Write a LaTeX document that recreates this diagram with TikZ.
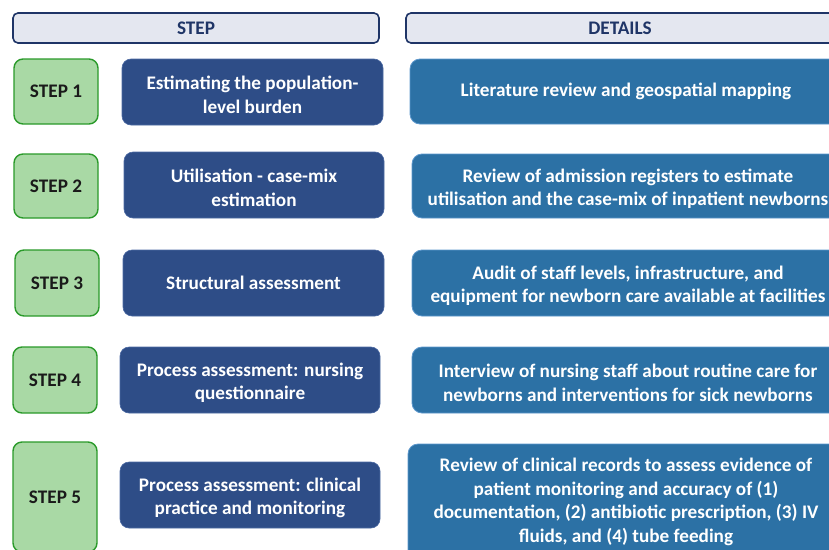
\documentclass[tikz,border=0pt]{standalone}
\usepackage{fontspec}
\setmainfont{Carlito}
\definecolor{hdrfill}{HTML}{E4E7F0}
\definecolor{hdrline}{HTML}{1F3567}
\definecolor{grnfill}{HTML}{A9D9A5}
\definecolor{grnline}{HTML}{2A9A2A}
\definecolor{navy}{HTML}{2E4D87}
\definecolor{navyline}{HTML}{4C6AA3}
\definecolor{teal}{HTML}{2C71A5}
\definecolor{tealline}{HTML}{5C97CC}
\definecolor{txtdark}{HTML}{1A1A1A}
\newcommand\mystrut{\rule{0pt}{19.5pt}}
\tikzset{
  base/.style={font=\fontsize{19.2}{23.5}\selectfont\bfseries, align=center, inner sep=0pt},
  hdr/.style={base, draw=hdrline, line width=1.6pt, fill=hdrfill, rounded corners=5pt, text=hdrline},
  stepbox/.style={base, draw=grnline, line width=1.4pt, fill=grnfill, rounded corners=9pt, text=txtdark, minimum width=84pt},
  namebox/.style={base, draw=navyline, line width=0.6pt, fill=navy, rounded corners=9pt, text=white},
  detailbox/.style={base, draw=tealline, line width=0.8pt, fill=teal, rounded corners=10pt, text=white}
}
\begin{document}
\begin{tikzpicture}[x=1pt,y=-1pt]
\useasboundingbox (0,0) rectangle (829,549);
\clip (0,0) rectangle (829,549);
% headers
\node[hdr, minimum width=366pt, minimum height=30pt] (hs) at (196,28) {STEP};
\node[hdr, minimum width=428pt, minimum height=30pt] (hd) at (620,28) {DETAILS};
% step 1
\node[stepbox, minimum height=65pt] (s1) at (56,91.5) {STEP 1};
\node[namebox, minimum width=261pt, minimum height=66pt] (n1) at (252.5,92) {\mystrut Estimating the population-\\level burden};
\node[detailbox, minimum width=432pt, minimum height=65pt] (d1) at (626,91.5) {Literature review and geospatial mapping};
% step 2
\node[stepbox, minimum height=64pt] (s2) at (56,186) {STEP 2};
\node[namebox, minimum width=260pt, minimum height=66pt] (n2) at (254,185) {\mystrut Utilisation - case-mix\\estimation};
\node[detailbox, minimum width=432pt, minimum height=64pt] (d2) at (628,186) {\mystrut Review of admission registers to estimate\\utilisation and the case-mix of inpatient newborns};
% step 3
\node[stepbox, minimum height=66pt] (s3) at (57,283) {STEP 3};
\node[namebox, minimum width=261pt, minimum height=66pt] (n3) at (253.5,283) {Structural assessment};
\node[detailbox, minimum width=432pt, minimum height=66pt] (d3) at (628,283) {\mystrut Audit of staff levels, infrastructure, and\\equipment for newborn care available at facilities};
% step 4
\node[stepbox, minimum height=66pt] (s4) at (55,380) {STEP 4};
\node[namebox, minimum width=260pt, minimum height=66pt] (n4) at (250,380) {\mystrut Process assessment: nursing\\questionnaire};
\node[detailbox, minimum width=432pt, minimum height=66pt] (d4) at (628,380) {\mystrut Interview of nursing staff about routine care for\\newborns and interventions for sick newborns};
% step 5
\node[stepbox, minimum height=110pt] (s5) at (55,497) {STEP 5};
\node[namebox, minimum width=260pt, minimum height=66pt] (n5) at (250,495) {\mystrut Process assessment: clinical\\practice and monitoring};
\node[detailbox, minimum width=436pt, minimum height=116pt] (d5) at (626,502) {Review of clinical records to assess evidence of\\patient monitoring and accuracy of (1)\\documentation, (2) antibiotic prescription, (3) IV\\fluids, and (4) tube feeding};
\end{tikzpicture}
\end{document}
